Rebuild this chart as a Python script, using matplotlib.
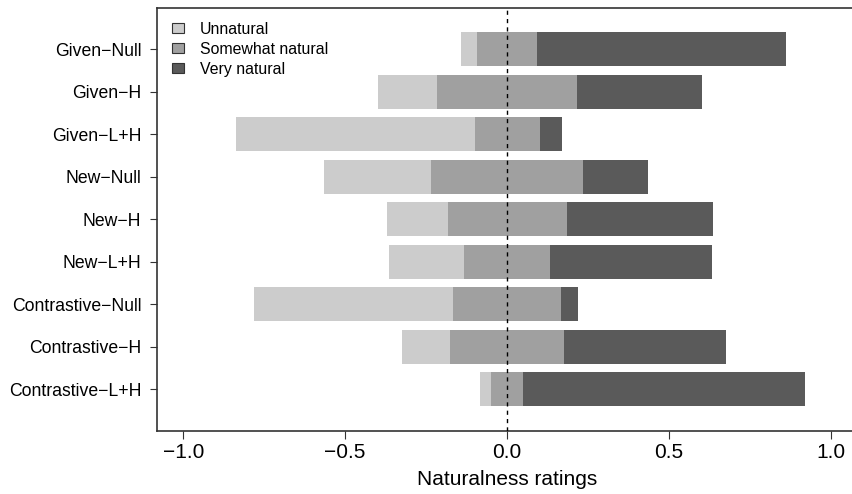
import matplotlib
matplotlib.use("Agg")
import matplotlib.pyplot as plt
from matplotlib.patches import Patch
import numpy as np

plt.rcParams['font.family'] = ['Liberation Sans', 'DejaVu Sans']

conditions = ["Given\u2212Null", "Given\u2212H", "Given\u2212L+H",
              "New\u2212Null", "New\u2212H", "New\u2212L+H",
              "Contrastive\u2212Null", "Contrastive\u2212H", "Contrastive\u2212L+H"]
unnatural = [0.049, 0.183, 0.736, 0.331, 0.186, 0.232, 0.615, 0.148, 0.034]
somewhat  = [0.186, 0.432, 0.201, 0.470, 0.367, 0.266, 0.334, 0.353, 0.099]
very      = [0.769, 0.386, 0.068, 0.201, 0.451, 0.500, 0.052, 0.500, 0.869]
series_names = ["Unnatural", "Somewhat natural", "Very natural"]
colors = ["#cccccc", "#a0a0a0", "#5a5a5a"]
xticks = [-1.0, -0.5, 0.0, 0.5, 1.0]

fig = plt.figure(figsize=(8.53, 4.94), dpi=100)
ax = fig.add_axes([157.3/853, 1-430.7/494, (856.9-157.3)/853, (430.7-8.3)/494])

y = np.arange(len(conditions))
u = np.array(unnatural); s = np.array(somewhat); v = np.array(very)
h = 0.8
ax.barh(y, u, left=-s/2 - u, height=h, color=colors[0], linewidth=0)
ax.barh(y, s, left=-s/2, height=h, color=colors[1], linewidth=0)
ax.barh(y, v, left=s/2, height=h, color=colors[2], linewidth=0)

ax.axvline(0, color="black", linestyle=(0, (3, 3)), linewidth=1, zorder=5)

ax.set_xlim(-1.08, 1.08)
ax.set_ylim(8.974, -0.965)
ax.set_yticks(y)
ax.set_yticklabels(conditions, fontsize=12.7)
ax.set_xticks(xticks)
ax.set_xticklabels([f"{t:.1f}".replace("-", "\u2212") for t in xticks], fontsize=15)
ax.tick_params(axis='x', length=5.5, width=0.8, pad=3, colors='#333333', labelcolor='black')
ax.tick_params(axis='y', length=5, width=0.8, pad=6.5, colors='#333333', labelcolor='black')
ax.set_xlabel("Naturalness ratings", fontsize=15, labelpad=6)
for sp in ax.spines.values():
    sp.set_color("#333333")
    sp.set_linewidth(1.2)

handles = [Patch(facecolor=c, edgecolor="#333333", linewidth=0.8) for c in colors]
ax.legend(handles, series_names, loc="upper left",
          bbox_to_anchor=(172.3/853, 1-21.5/494), bbox_transform=fig.transFigure,
          frameon=False, fontsize=11.4, handlelength=0.72, handleheight=0.66,
          handletextpad=1.0, labelspacing=0.32, borderpad=0, borderaxespad=0)

fig.savefig("out.png", dpi=100)
